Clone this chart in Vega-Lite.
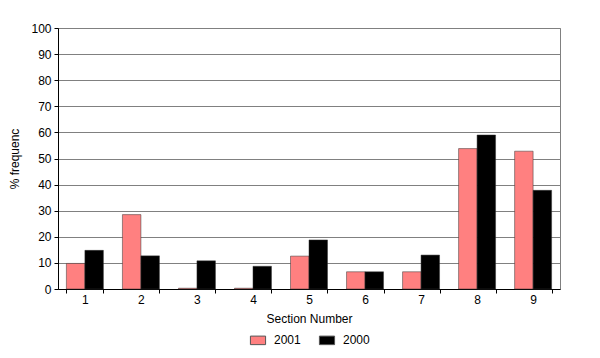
{
  "$schema": "https://vega.github.io/schema/vega-lite/v6.json",
  "autosize": "none",
  "width": 502,
  "height": 261,
  "padding": {"left": 58, "top": 28, "right": 40, "bottom": 69},
  "background": "white",
  "config": {
    "font": "Liberation Sans",
    "view": {"stroke": "#808080", "strokeWidth": 1}
  },
  "data": {
    "values": [
      {"section": "1", "year": "2001", "pct": 9.8},
      {"section": "1", "year": "2000", "pct": 14.8},
      {"section": "2", "year": "2001", "pct": 28.5},
      {"section": "2", "year": "2000", "pct": 12.7},
      {"section": "3", "year": "2001", "pct": 0.3},
      {"section": "3", "year": "2000", "pct": 10.8},
      {"section": "4", "year": "2001", "pct": 0.3},
      {"section": "4", "year": "2000", "pct": 8.7},
      {"section": "5", "year": "2001", "pct": 12.6},
      {"section": "5", "year": "2000", "pct": 18.8},
      {"section": "6", "year": "2001", "pct": 6.6},
      {"section": "6", "year": "2000", "pct": 6.6},
      {"section": "7", "year": "2001", "pct": 6.6},
      {"section": "7", "year": "2000", "pct": 13},
      {"section": "8", "year": "2001", "pct": 53.8},
      {"section": "8", "year": "2000", "pct": 59},
      {"section": "9", "year": "2001", "pct": 52.8},
      {"section": "9", "year": "2000", "pct": 37.8}
    ]
  },
  "mark": {"type": "bar", "stroke": "#333333", "strokeWidth": 0.5},
  "encoding": {
    "x": {
      "field": "section",
      "type": "ordinal",
      "sort": ["1","2","3","4","5","6","7","8","9"],
      "scale": {"paddingInner": 0.34, "paddingOuter": 0.15},
      "axis": {
        "title": "Section Number",
        "titleFont": "Liberation Sans",
        "titleFontWeight": "normal",
        "titleFontSize": 12,
        "titleColor": "black",
        "titlePadding": 8,
        "labelAngle": 0,
        "labelFontSize": 12,
        "labelColor": "black",
        "labelPadding": 1,
        "domainColor": "black",
        "tickColor": "black",
        "tickSize": 4,
        "ticks": true,
        "tickBand": "extent"
      }
    },
    "xOffset": {"field": "year", "type": "nominal", "sort": ["2001", "2000"]},
    "y": {
      "field": "pct",
      "type": "quantitative",
      "scale": {"domain": [0, 100]},
      "axis": {
        "title": "% frequenc",
        "titleFont": "Liberation Sans",
        "titleFontWeight": "normal",
        "titleFontSize": 12,
        "titleColor": "black",
        "titlePadding": 9,
        "values": [0,10,20,30,40,50,60,70,80,90,100],
        "labelFontSize": 12,
        "labelColor": "black",
        "labelPadding": 3,
        "domainColor": "black",
        "tickColor": "black",
        "tickSize": 4,
        "gridColor": "#808080",
        "gridOpacity": 1
      }
    },
    "color": {
      "field": "year",
      "type": "nominal",
      "sort": ["2001", "2000"],
      "scale": {"domain": ["2001", "2000"], "range": ["#FF8080", "#000000"]},
      "legend": {
        "title": null,
        "orient": "none",
        "direction": "horizontal",
        "legendX": 194,
        "legendY": 306,
        "symbolType": "M-1.6,-0.9H1.6V0.9H-1.6Z",
        "symbolSize": 90,
        "symbolStrokeColor": "#555555",
        "symbolStrokeWidth": 1,
        "labelFontSize": 12,
        "labelColor": "black",
        "labelOffset": 10,
        "columnPadding": 16
      }
    }
  }
}
